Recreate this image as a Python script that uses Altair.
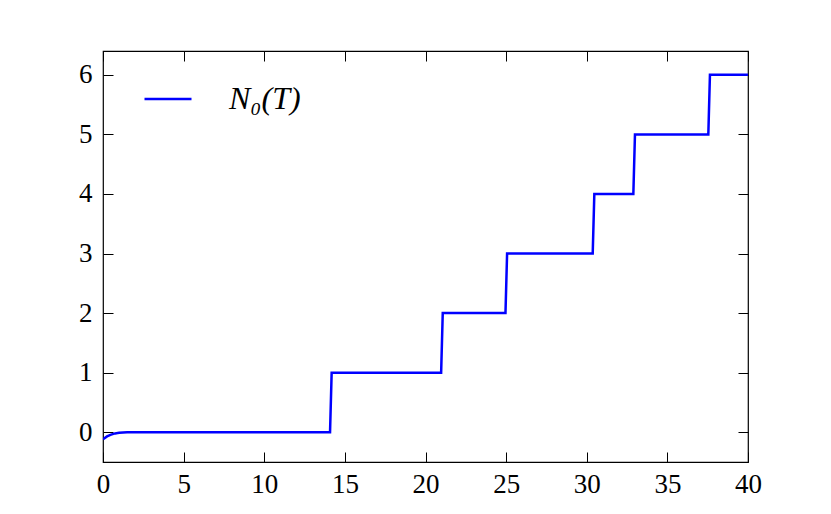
import altair as alt
import pandas as pd

# Smooth start near T=0
T_start = [0.0, 0.25, 0.5, 0.75, 1.0, 1.5, 2.0]
N_start = [-0.12, -0.07, -0.04, -0.02, -0.01, -0.002, 0.0]

# Positions of the jumps (first zeta zeros)
zeros = [14.13, 21.02, 25.01, 30.42, 32.94, 37.59]
T_end = 40.0
N_end = 6

x_ticks = [0, 5, 10, 15, 20, 25, 30, 35, 40]
y_ticks = [0, 1, 2, 3, 4, 5, 6]
series_name = "N₀(T)"

rows = [(t, n) for t, n in zip(T_start, N_start)]
k = 0
for z in zeros:
    rows.append((z - 0.05, k))
    rows.append((z + 0.05, k + 1))
    k += 1
rows.append((T_end, N_end))
df = pd.DataFrame(rows, columns=["T", "N"])
df["series"] = series_name
df["order"] = range(len(df))

FONT = "Liberation Serif"
xs = alt.Scale(domain=[0, 40], nice=False, zero=False)
ys = alt.Scale(domain=[-0.5, 6.4], nice=False, zero=False)

common_axis = dict(tickSize=10, offset=-10, domain=False, grid=False,
                   tickColor="black", tickWidth=1, title=None,
                   labelFont=FONT, labelFontSize=27, labelColor="black",
                   labelFlush=False, labelOverlap=False)

main = alt.Chart(df).mark_line(strokeWidth=2.5, clip=True).encode(
    x=alt.X("T:Q", scale=xs, axis=alt.Axis(orient="bottom", values=x_ticks,
                                            labelPadding=9, **common_axis)),
    y=alt.Y("N:Q", scale=ys, axis=alt.Axis(orient="left", values=y_ticks,
                                            labelPadding=11, **common_axis)),
    order="order:Q",
    color=alt.Color("series:N", scale=alt.Scale(range=["#0000ff"]),
                    legend=alt.Legend(title=None, orient="none", legendX=40, legendY=23,
                                      symbolType="stroke", symbolSize=2209,
                                      symbolStrokeWidth=2.5, labelOffset=36,
                                      labelFont=FONT, labelFontSize=32,
                                      labelFontStyle="italic", labelColor="black",
                                      padding=0)),
)

mirror = alt.Chart(df).mark_line(strokeOpacity=0).encode(
    x=alt.X("T:Q", scale=xs, axis=alt.Axis(orient="top", values=x_ticks,
                                            labels=False, **common_axis)),
    y=alt.Y("N:Q", scale=ys, axis=alt.Axis(orient="right", values=y_ticks,
                                            labels=False, **common_axis)),
    order="order:Q",
)

chart = alt.layer(main, mirror).resolve_axis(x="independent", y="independent").properties(
    width=645, height=411,
    autosize=alt.AutoSizeParams(type="none"),
    padding={"left": 95, "top": 43, "right": 75, "bottom": 44},
).configure(background="white").configure_view(stroke="black", strokeWidth=1.2)

chart.save("out.html", embed_options={"renderer": "svg", "actions": False})
